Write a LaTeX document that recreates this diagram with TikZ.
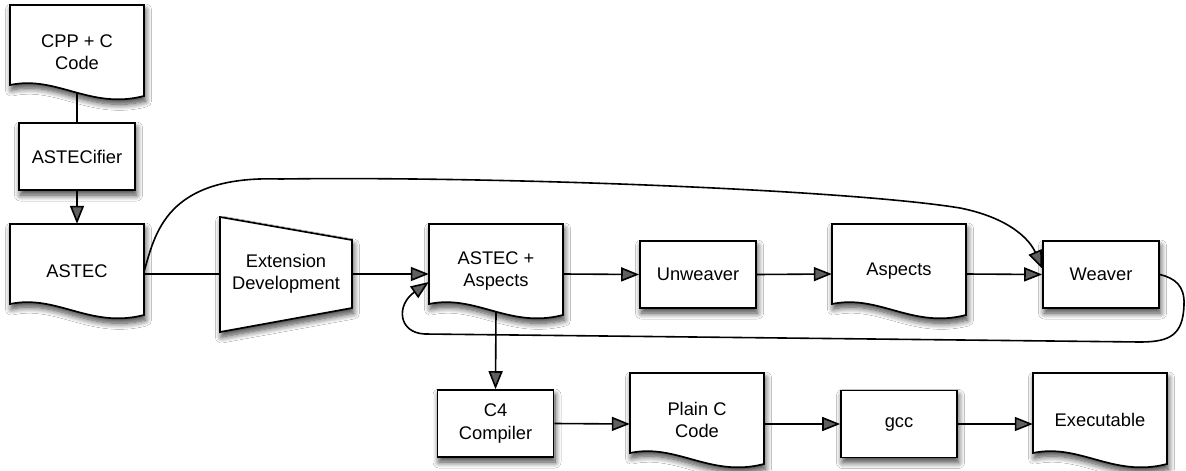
\documentclass[tikz,border=0pt]{standalone}
\usepackage{fontspec}
\setmainfont{Liberation Sans}
\usetikzlibrary{arrows.meta,shadows.blur}

\newcommand\lblfont{\fontsize{18.3}{22.5}\selectfont}

\tikzset{
  softshadow/.style={blur shadow={shadow xshift=1.5pt, shadow yshift=-5pt,
      shadow blur radius=6pt, shadow opacity=75, shadow blur steps=10}},
  shapeline/.style={draw=black, line width=1.7pt, fill=white, softshadow},
  procbox/.style={shapeline, rectangle, minimum width=116pt, minimum height=67pt,
      inner sep=0pt, align=center, font=\lblfont},
  doclabel/.style={rectangle, inner sep=0pt, minimum width=134pt,
      minimum height=94pt, align=center, font=\lblfont},
  link/.style={line width=1.6pt},
  flow/.style={link, -{Triangle[length=18pt,width=14pt]}},
}

% Document symbol: straight top and sides, wavy bottom edge.
% #1 name, #2 left x, #3 top y, #4 label
\newcommand\docnode[4]{%
  \path[shapeline, shift={(#2,#3)}] (0,0) -- (134,0) -- (134,91)
     .. controls (80,105) and (47,70) .. (0,80) -- cycle;
  \node[doclabel] (#1) at ({#2+67},{#3+47}) {#4};
  \coordinate (#1-b) at ({#2+67},{#3+87.5});
}

\begin{document}
\begin{tikzpicture}[x=1pt,y=-1pt]
  \fill[white] (0,0) rectangle (1186,471);
  \useasboundingbox (0,0) rectangle (1186,471);

  % documents
  \docnode{cpp}{10}{5}{CPP + C\\Code}
  \docnode{astec}{10}{224}{ASTEC}
  \docnode{aa}{429}{224}{ASTEC +\\Aspects}
  \docnode{asp}{832}{224}{Aspects}
  \docnode{plain}{630}{373}{Plain C\\Code}
  \docnode{exe}{1033}{373}{Executable}

  % process boxes
  \node[procbox] (astecifier) at (77,156.5) {ASTECifier};
  \node[procbox] (unw) at (698,274.5) {Unweaver};
  \node[procbox] (weaver) at (1101,274.5) {Weaver};
  \node[procbox] (c4) at (495.5,423.5) {C4\\Compiler};
  \node[procbox] (gcc) at (899,424) {gcc};

  % manual operation (trapezoid)
  \path[shapeline] (220,217) -- (352,240) -- (352,308) -- (220,332) -- cycle;
  \node[rectangle, inner sep=0pt, minimum width=132pt, minimum height=60pt,
        align=center, font=\lblfont] (ext) at (286,274) {Extension\\Development};

  % connectors
  \draw[link] (cpp-b) -- (astecifier.north);
  \draw[flow] (astecifier.south) -- (astec.north);
  \draw[link] ([yshift=-3pt]astec.east) -- (ext.west);
  \draw[flow] (ext.east) -- ([yshift=-3pt]aa.west);
  \draw[flow] ([yshift=-3pt]aa.east) -- (unw.west);
  \draw[flow] (unw.east) -- ([yshift=-3pt]asp.west);
  \draw[flow] ([yshift=-3pt]asp.east) -- (weaver.west);
  \draw[flow] (aa-b) -- (c4.north);
  \draw[flow] (c4.east) -- ([yshift=-4pt]plain.west);
  \draw[flow] ([yshift=-4pt]plain.east) -- (gcc.west);
  \draw[flow] (gcc.east) -- ([yshift=-4pt]exe.west);

  % bypass from ASTEC straight to the weaver
  \draw[flow] (astec.east) .. controls (155,235) and (165,175) .. (280,179)
     .. controls (500,176) and (850,190) .. (960,208)
     .. controls (1010,218) and (1030,240) .. ([yshift=6pt]weaver.west);

  % feedback loop from the weaver back to ASTEC + Aspects
  \draw[flow] (weaver.east) .. controls (1174,278) and (1185,285) .. (1184,305)
     .. controls (1183,335) and (1170,342) .. (1140,342) -- (425,334)
     .. controls (398,333) and (396,305) .. ([yshift=-11pt]aa.west);
\end{tikzpicture}
\end{document}
